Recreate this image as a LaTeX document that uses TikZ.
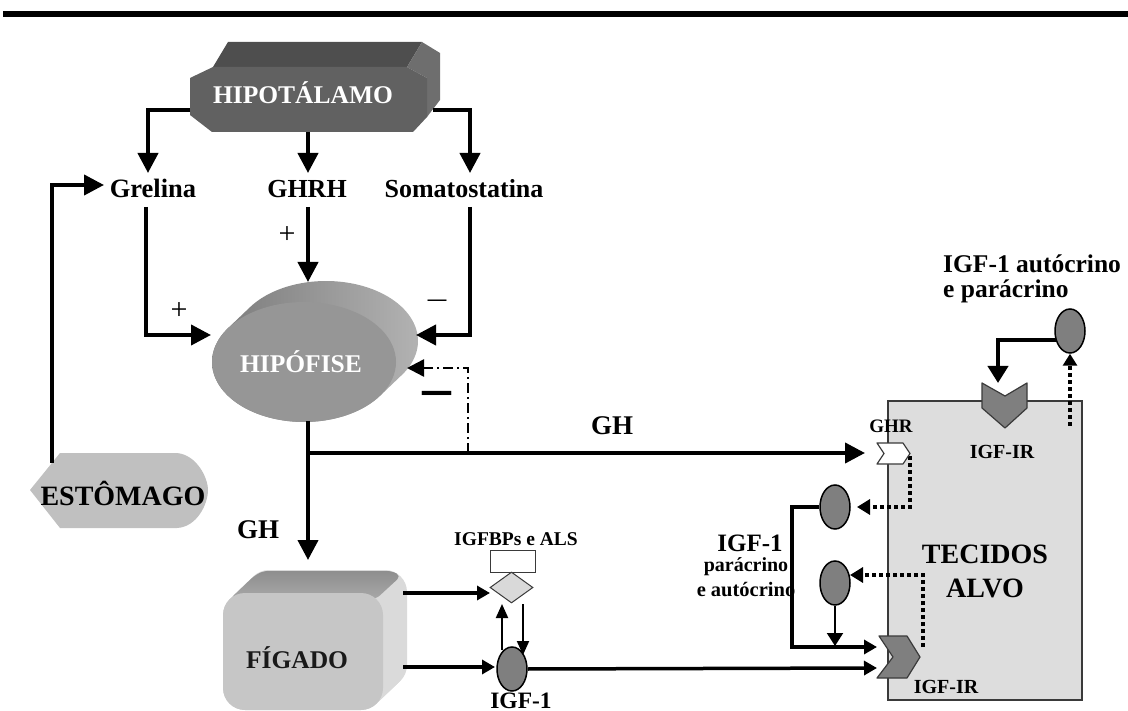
\documentclass[tikz,border=0pt]{standalone}
\usepackage{fontspec}
\setmainfont{Liberation Serif}
\newfontfamily\dejavu{DejaVu Sans}
\usetikzlibrary{arrows.meta,shapes.geometric}
\definecolor{hipoFront}{HTML}{616161}
\definecolor{hipoTop}{HTML}{4E4E4E}
\definecolor{hipoSide}{HTML}{6E6E6E}
\definecolor{hipfFront}{HTML}{969696}
\definecolor{hipfDark}{HTML}{7A7A7A}
\definecolor{hipfLight}{HTML}{B2B2B2}
\definecolor{estoCol}{HTML}{C0C0C0}
\definecolor{figFront}{HTML}{C6C6C6}
\definecolor{figSide}{HTML}{DADADA}
\definecolor{figTopA}{HTML}{8E8E8E}
\definecolor{figTopB}{HTML}{A8A8A8}
\definecolor{tecCol}{HTML}{DDDDDD}
\definecolor{cellCol}{HTML}{7F7F7F}
\definecolor{edgeCol}{HTML}{3A3A3A}
\definecolor{diaCol}{HTML}{D9D9D9}
\newcommand{\myfs}[1]{\fontsize{#1}{#1}\selectfont}
\begin{document}
\begin{tikzpicture}[x=1pt,y=-1pt,
  lbl/.style={inner sep=0pt, anchor=base},
  con/.style={line width=4pt},
  arr/.style={line width=4pt, -{Triangle[length=20pt,width=20pt]}},
  arrM/.style={line width=4pt, -{Triangle[length=13pt,width=14pt]}},
  arrS/.style={line width=2pt, -{Triangle[length=14pt,width=12pt]}},
  dotarr/.style={line width=4pt, dash pattern=on 4pt off 3pt, -{Triangle[length=13pt,width=15pt]}},
  ddarr/.style={line width=2.5pt, dash pattern=on 10pt off 4pt on 2pt off 4pt, -{Triangle[length=17pt,width=17pt]}},
  cell/.style={ellipse, draw=black, line width=1.5pt, fill=cellCol, minimum width=30pt, minimum height=44pt, inner sep=0pt},
  chev/.style={draw=edgeCol, line width=1.2pt, line join=round},
]
\useasboundingbox (0,0) rectangle (1128,711);
% top rule
\fill[black] (3,11) rectangle (1128,17);

% ---------- HIPOTALAMO ----------
\fill[hipoTop] (213,67) -- (228,42) -- (422,42) -- (407,67) -- cycle;
\fill[hipoSide] (407,67) -- (422,42) -- (440,53) -- (440,100) -- (427,117) -- (427,78) -- cycle;
\fill[hipoFront] (190,78) -- (213,67) -- (407,67) -- (427,78) -- (427,117) -- (413,132) -- (212,132) -- (190,115) -- cycle;
\node[lbl, font=\bfseries\myfs{25.5}, text=white] (hipoT) at (303,104) {HIPOTÁLAMO};
\coordinate (hipoW) at (190,110);
\coordinate (hipoS) at (308,132);
\coordinate (hipoE) at (433,110);

% ---------- HIPOFISE ----------
\shade[left color=hipfDark, right color=hipfLight]
  plot[domain=34.3:214.3, samples=60] ({304+92*cos(\x)},{362+60*sin(\x)})
  -- plot[domain=214.3:394.3, samples=60] ({326+92*cos(\x)},{341+60*sin(\x)}) -- cycle;
\fill[hipfFront] plot[domain=0:360, samples=90] ({304+92*cos(\x)},{362+60*sin(\x)}) -- cycle;
\node[lbl, font=\bfseries\myfs{25.5}, text=white] (hipf) at (301,373) {HIPÓFISE};
\coordinate (hipfW) at (211,335);
\coordinate (hipfN) at (308,282);
\coordinate (hipfE) at (416,335);
\coordinate (hipfE2) at (407,368);
\coordinate (hipfS) at (308,421);

% ---------- ESTOMAGO ----------
\fill[estoCol] (30,490) -- (60,453) -- (177,453) .. controls (197,455) and (208,478) .. (208,490)
  .. controls (208,504) and (197,527) .. (177,528) -- (60,528) -- cycle;
\node[lbl, font=\bfseries\myfs{28}] (esto) at (123,505) {ESTÔMAGO};
\coordinate (estoN) at (52,463);

% ---------- FIGADO ----------
\foreach \s in {0,1,...,24} {
  \fill[figSide, rounded corners=22pt] (223+\s,593-0.958*\s) rectangle (383+\s,710-0.958*\s);
}
\shade[top color=figTopA, bottom color=figTopB, rounded corners=5pt]
  (230,599) -- (254,576) -- (263,571) -- (392,571) -- (401,576) -- (376,599) -- cycle;
\fill[figFront, rounded corners=22pt] (223,593) rectangle (383,710);
\node[lbl, font=\bfseries\myfs{25.5}, text=black!90] (fig) at (297,668) {FÍGADO};
\coordinate (figN) at (308,560);
\coordinate (figE1) at (403,593);
\coordinate (figE2) at (403,667);

% ---------- TECIDOS ALVO ----------
\node[draw=edgeCol, fill=tecCol, line width=1.5pt, minimum width=194pt, minimum height=299pt, inner sep=0pt] (tec) at (985,550.5) {};
\node[lbl, font=\bfseries\myfs{28}] (tec1) at (985,563) {TECIDOS};
\node[lbl, font=\bfseries\myfs{28}] (tec2) at (985,597) {ALVO};

% ---------- top labels ----------
\node[lbl, font=\bfseries\myfs{26.5}] (grel) at (153,198) {Grelina};
\node[lbl, font=\bfseries\myfs{26}] (ghrh) at (307,198) {GHRH};
\node[lbl, font=\bfseries\myfs{26}] (soma) at (464,198) {Somatostatina};
\coordinate (grelIn) at (148,173);
\coordinate (ghrhIn) at (308,173);
\coordinate (somaIn) at (470,173);
\coordinate (grelOut) at (146,207);
\coordinate (ghrhOut) at (308,207);
\coordinate (somaOut) at (470,207);
\coordinate (grelW) at (104,185);

\draw[arr] (hipoW) -| (grelIn);
\draw[arr] (hipoS) -- (ghrhIn);
\draw[arr] (hipoE) -| (somaIn);
\draw[arr] (grelOut) |- (hipfW);
\draw[arr] (ghrhOut) -- (hipfN);
\draw[arr] (somaOut) |- (hipfE);
\draw[arr] (estoN) |- (grelW);

\node[font=\myfs{30}, inner sep=0pt] (plus1) at (179,311) {+};
\node[font=\myfs{30}, inner sep=0pt] (plus2) at (287,235) {+};
\node[font=\dejavu\myfs{21}, inner sep=0pt] (minus1) at (437,303) {—};
\node[font=\dejavu\bfseries\myfs{33}, inner sep=0pt] (minus2) at (437,397) {—};

% ---------- GH ----------
\coordinate (ghBranch) at (308,453);
\coordinate (ghrIn) at (865,453);
\coordinate (ddStart) at (468,453);
\draw[arr] (hipfS) -- (figN);
\draw[arr] (ghBranch) -- (ghrIn);
\draw[ddarr] (ddStart) |- (hipfE2);
\node[lbl, font=\bfseries\myfs{27}] (ghTop) at (612,435) {GH};
\node[lbl, font=\bfseries\myfs{27}] (ghLeft) at (258,538) {GH};

% ---------- IGFBPs / IGF-1 liver ----------
\node[draw=edgeCol, fill=white, line width=1pt, minimum width=45pt, minimum height=22pt, inner sep=0pt] (bpbox) at (512.5,561) {};
\node[diamond, aspect=1.375, draw=edgeCol, fill=diaCol, line width=1pt, minimum width=43pt, minimum height=31pt, inner sep=0pt] (dia) at (511.5,587.5) {};
\node[lbl, font=\bfseries\myfs{19.5}] (bplbl) at (516,545) {IGFBPs e ALS};
\node[cell] (igfL) at (512,669) {};
\node[lbl, font=\bfseries\myfs{23.5}] (igfLl) at (521,708) {IGF-1};
\coordinate (diaIn) at (490,593);
\coordinate (igfLIn) at (495,667);
\coordinate (upS) at (502,650);
\coordinate (upE) at (502,604);
\coordinate (dnS) at (523,604);
\coordinate (dnE) at (523,655);
\draw[arrM] (figE1) -- (diaIn);
\draw[arrM] (figE2) -- (igfLIn);
\draw[arrS] (upS) -- (upE);
\draw[arrS] (dnS) -- (dnE);

% ---------- target tissue connectors ----------
\coordinate (chevIn1) at (877,647);
\coordinate (chevIn2) at (877,668);
\coordinate (jn) at (792,647);
\coordinate (ghrOut) at (910,456);
\coordinate (eAin) at (857,507);
\coordinate (chevOut) at (923,647);
\coordinate (eBin) at (850,575);
\coordinate (eBdown) at (835,646);
\coordinate (topOut) at (1056,340);
\coordinate (igfrTopIn) at (998,383);
\coordinate (tecTopR) at (1070,426);

\node[cell] (eTop) at (1070,331) {};
\node[cell] (eA) at (835,507) {};
\node[cell] (eB) at (835,583) {};

\draw[line width=3.5pt, -{Triangle[length=13pt,width=14pt]}] (igfL.east) -- (chevIn2);
\draw[arrM] (eA.west) -| (jn) -- (chevIn1);
\draw[line width=2pt, -{Triangle[length=13pt,width=16pt]}] (eB.south) -- (eBdown);
\draw[dotarr] (ghrOut) |- (eAin);
\draw[dotarr] (chevOut) |- (eBin);
\draw[line width=4pt, -{Triangle[length=17pt,width=20pt]}] (topOut) -| (igfrTopIn);
\draw[line width=4pt, dash pattern=on 4pt off 3pt, -{Triangle[length=12pt,width=14pt]}] (tecTopR) -- (eTop.south);

% receptors
\filldraw[chev, fill=white] (877,443) -- (903,443) -- (910,453.5) -- (903,464) -- (877,464) -- (884,453.5) -- cycle;
\filldraw[chev, fill=cellCol] (879,636) -- (907,636) -- (920,657) -- (907,678) -- (877,678) -- (893,657) -- cycle;
\filldraw[chev, fill=cellCol] (982,383) -- (1005,396) -- (1027,383) -- (1027,408) -- (1005,428) -- (982,408) -- cycle;

\node[lbl, font=\bfseries\myfs{19}] (ghrL) at (891,432) {GHR};
\node[lbl, font=\bfseries\myfs{20}] (igfrT) at (1002,458) {IGF-IR};
\node[lbl, font=\bfseries\myfs{20}] (igfrB) at (946,693) {IGF-IR};

\node[lbl, anchor=base west, font=\bfseries\myfs{25.5}] (autoc1) at (943,273) {IGF-1 autócrino};
\node[lbl, anchor=base west, font=\bfseries\myfs{25.5}] (autoc2) at (943,298) {e parácrino};

\node[lbl, font=\bfseries\myfs{25}] (parac1) at (750,551) {IGF-1};
\node[lbl, font=\bfseries\myfs{20}] (parac2) at (746,571) {parácrino};
\node[lbl, font=\bfseries\myfs{20.5}] (parac3) at (746,596) {e autócrino};
\end{tikzpicture}
\end{document}
